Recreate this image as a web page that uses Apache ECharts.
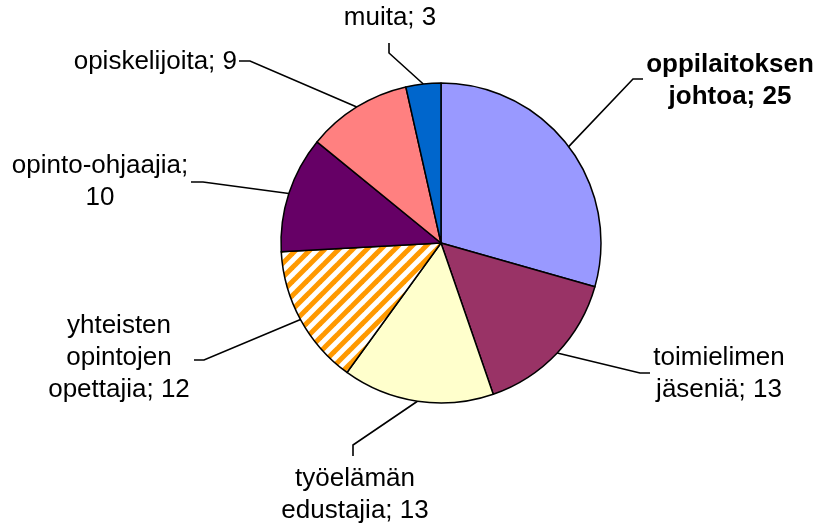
<!DOCTYPE html>
<html>
<head>
<meta charset="utf-8">
<script src="https://cdn.jsdelivr.net/npm/echarts@6/dist/echarts.min.js"></script>
</head>
<body style="margin:0;background:#fff">
<div id="main" style="width:819px;height:527px;"></div>
<script>
    // data
    var categories = ['oppilaitoksen\njohtoa', 'toimielimen\njäseniä', 'työelämän\nedustajia',
        'yhteisten\nopintojen\nopettajia', 'opinto-ohjaajia', 'opiskelijoita', 'muita'];
    var values = [25, 13, 13, 12, 10, 9, 3];

    var colors = ['#9999FF', '#993366', '#FFFFCC', null, '#660066', '#FF8080', '#0066CC'];

    // label placement: text anchor, bend point and end point of the leader line
    var labelSpots = [
        { x: 730, y: 81, align: 'center', sep: '; ', bold: true, bend: [633, 79], end: [643, 79] },
        { x: 719, y: 374, align: 'center', sep: '; ', bend: [640, 373], end: [650, 373] },
        { x: 355, y: 495, align: 'center', sep: '; ', bend: [353, 445], end: [353, 456] },
        { x: 119, y: 358, align: 'center', sep: '; ', bend: [204, 360], end: [194, 360] },
        { x: 100, y: 182, align: 'center', sep: ';\n', bend: [203, 182], end: [191, 182] },
        { x: 237, y: 62, align: 'right', sep: '; ', bend: [250, 61], end: [239, 61] },
        { x: 390, y: 18, align: 'center', sep: '; ', bend: [389, 53], end: [389, 43] }
    ];

    // hatch for the orange striped slice
    var hatch = document.createElement('canvas');
    hatch.width = 14;
    hatch.height = 14;
    var ctx = hatch.getContext('2d');
    ctx.fillStyle = '#fff';
    ctx.fillRect(0, 0, 14, 14);
    ctx.strokeStyle = '#FF9900';
    ctx.lineWidth = 5;
    [[-7, 7, 7, -7], [0, 14, 14, 0], [7, 21, 21, 7]].forEach(function (l) {
        ctx.beginPath();
        ctx.moveTo(l[0], l[1]);
        ctx.lineTo(l[2], l[3]);
        ctx.stroke();
    });

    var pieData = categories.map(function (name, i) {
        var spot = labelSpots[i];
        return {
            name: name,
            value: values[i],
            itemStyle: {
                color: colors[i] || { image: hatch, repeat: 'repeat' }
            },
            label: {
                fontWeight: spot.bold ? 'bold' : 'normal',
                formatter: function (p) { return p.name + spot.sep + p.value; }
            }
        };
    });

    var myChart = echarts.init(document.getElementById('main'));
    var option = {
        backgroundColor: '#fff',
        animation: false,
        series: [{
            type: 'pie',
            center: [441, 243],
            radius: 160,
            startAngle: 90,
            clockwise: true,
            avoidLabelOverlap: false,
            itemStyle: {
                borderColor: '#000',
                borderWidth: 1.5
            },
            label: {
                show: true,
                position: 'outside',
                color: '#000',
                fontFamily: '"Liberation Sans", Arial, sans-serif',
                fontSize: 26,
                lineHeight: 32
            },
            labelLine: {
                show: true,
                length: 20,
                length2: 10,
                lineStyle: { color: '#000', width: 1.6 }
            },
            labelLayout: function (params) {
                var spot = labelSpots[params.dataIndex];
                var start = params.labelLinePoints ? params.labelLinePoints[0] : spot.bend;
                return {
                    x: spot.x,
                    y: spot.y,
                    align: spot.align,
                    verticalAlign: 'middle',
                    labelLinePoints: [start, spot.bend, spot.end]
                };
            },
            emphasis: { disabled: true },
            data: pieData
        }]
    };
    myChart.setOption(option);
</script>
</body>
</html>
